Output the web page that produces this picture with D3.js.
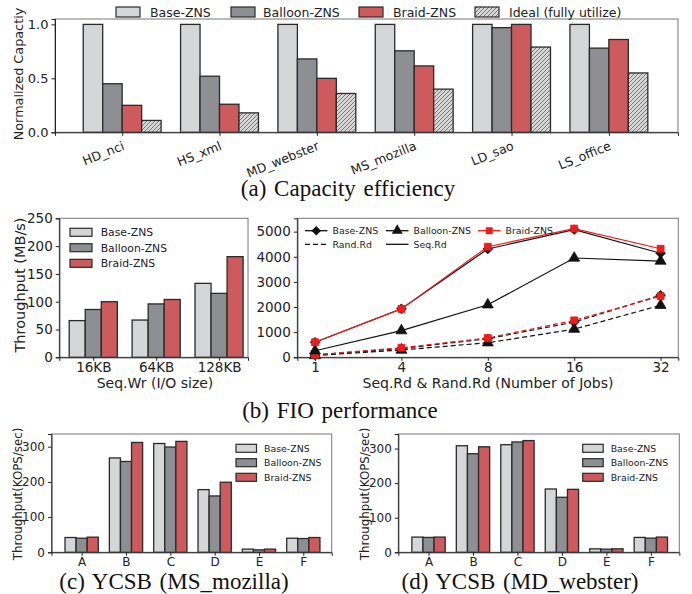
<!DOCTYPE html>
<html>
<head>
<meta charset="utf-8">
<script src="https://cdn.jsdelivr.net/npm/d3@7"></script>
<style>
body { margin: 0; background: #fff; }
svg text { font-family: "DejaVu Sans", sans-serif; fill: #222; }
svg text.cap { font-family: "Liberation Serif", serif; fill: #111; }
</style>
</head>
<body>
<div id="fig"></div>
<script>
// (a) capacity efficiency
const traces = ["HD_nci", "HS_xml", "MD_webster", "MS_mozilla", "LD_sao", "LS_office"];
const capBase = [1, 1, 1, 1, 1, 1];
const capBalloon = [0.45, 0.52, 0.68, 0.755, 0.97, 0.78];
const capBraid = [0.25, 0.26, 0.50, 0.615, 1.0, 0.86];
const capIdeal = [0.11, 0.18, 0.36, 0.40, 0.79, 0.55];
const capTicks = [0, 0.5, 1.0];

// (b) sequential write
const ioSizes = ["16KB", "64KB", "128KB"];
const wrBase = [66, 67, 133];
const wrBalloon = [86, 96, 115];
const wrBraid = [100, 104, 181];
const wrTicks = [0, 50, 100, 150, 200, 250];

// (b) sequential / random read
const jobs = ["1", "4", "8", "16", "32"];
const seqBase = [597, 1933, 4310, 5080, 4140];
const seqBalloon = [260, 1060, 2090, 3950, 3830];
const seqBraid = [600, 1925, 4400, 5120, 4320];
const randBase = [90, 350, 740, 1400, 2470];
const randBalloon = [70, 290, 580, 1120, 2070];
const randBraid = [100, 380, 770, 1470, 2430];
const rdTicks = [0, 1000, 2000, 3000, 4000, 5000];

// (c) / (d) YCSB
const workloads = ["A", "B", "C", "D", "E", "F"];
const mozBase = [42, 268, 309, 178, 9, 40];
const mozBalloon = [40, 258, 299, 160, 7, 39];
const mozBraid = [43, 312, 315, 199, 9, 42];
const webBase = [44, 308, 311, 183, 10, 43];
const webBalloon = [43, 285, 319, 159, 9, 41];
const webBraid = [44, 305, 323, 182, 10, 44];
const ycsbTicks = [0, 100, 200, 300];

const names = ["Base-ZNS", "Balloon-ZNS", "Braid-ZNS"];
const fills = ["#d5d6d8", "#8e8f93", "#cd5a5c"];

const svg = d3.select("#fig")
    .append("svg")
    .attr("width", 692)
    .attr("height", 594);

// hatch for "Ideal"
const pat = svg.append("defs").append("pattern")
    .attr("id", "hatch")
    .attr("patternUnits", "userSpaceOnUse")
    .attr("width", 4)
    .attr("height", 4);
pat.append("rect").attr("width", 4).attr("height", 4).attr("fill", "#d8d8d8");
pat.append("path")
    .attr("d", "M-1,1 l2,-2 M0,4 l4,-4 M3,5 l2,-2")
    .attr("stroke", "#5a5a5a")
    .attr("stroke-width", 0.8);

// frame + axes for one panel
function axes(g, x, y, o) {
    const [x0, x1] = x.range();
    const [y0, y1] = y.range();
    g.append("rect")
        .attr("x", x0).attr("y", y1)
        .attr("width", x1 - x0).attr("height", y0 - y1)
        .attr("fill", "none")
        .attr("stroke", "#777")
        .attr("stroke-width", 1);

    const ya = g.append("g")
        .attr("transform", `translate(${x0},0)`)
        .call(d3.axisLeft(y).tickValues(o.yTicks).tickFormat(o.yFmt).tickSizeOuter(0).tickSize(3.5).tickPadding(3));
    ya.select(".domain").attr("stroke", "#222");
    ya.selectAll(".tick line").attr("stroke", "#222");
    ya.selectAll("text").attr("font-size", o.yFs).attr("font-family", "DejaVu Sans").attr("fill", "#222");

    const xa = g.append("g")
        .attr("transform", `translate(0,${y0})`)
        .call(d3.axisBottom(x).tickValues(d3.range(o.cats.length)).tickFormat(i => o.cats[i]).tickSizeOuter(0).tickSize(3.5).tickPadding(2));
    xa.select(".domain").attr("stroke", "#222");
    xa.selectAll(".tick line").attr("stroke", "#222");
    xa.selectAll("text").attr("font-size", o.xFs).attr("font-family", "DejaVu Sans").attr("fill", "#222");
    return xa;
}

function bars(g, x, y, series, bw) {
    const n = series.length;
    series.forEach((s, k) => {
        const off = (k - (n - 1) / 2) * bw;
        g.append("g").selectAll("rect")
            .data(s.vals)
            .join("rect")
            .attr("x", (d, i) => x(i + off - bw / 2))
            .attr("width", x(bw) - x(0))
            .attr("y", d => y(d))
            .attr("height", d => y(0) - y(d))
            .attr("fill", s.fill)
            .attr("stroke", "#2a2a2a")
            .attr("stroke-width", 1.3);
    });
}

function boxLegend(g, items, x, ys, w, h, fs, tx) {
    items.forEach((it, k) => {
        g.append("rect")
            .attr("x", x[k]).attr("y", ys[k] - h / 2)
            .attr("width", w).attr("height", h)
            .attr("fill", it.fill)
            .attr("stroke", "#2a2a2a")
            .attr("stroke-width", 1.2);
        g.append("text")
            .attr("x", tx[k]).attr("y", ys[k])
            .attr("dy", "0.36em")
            .attr("font-size", fs)
            .text(it.name);
    });
}

function yLabel(g, text, cx, cy, fs) {
    g.append("text")
        .attr("transform", `translate(${cx},${cy}) rotate(-90)`)
        .attr("text-anchor", "middle")
        .attr("dy", "0.36em")
        .attr("font-size", fs)
        .text(text);
}

function caption(text, cx, y) {
    svg.append("text")
        .attr("class", "cap")
        .attr("x", cx).attr("y", y)
        .attr("text-anchor", "middle")
        .attr("font-size", 23)
        .style("word-spacing", "2px")
        .text(text);
}

// ---------- (a)
const ga = svg.append("g");
const xa = d3.scaleLinear().domain([-0.69, 5.71]).range([55, 678]);
const ya = d3.scaleLinear().domain([0, 1.05]).range([132.3, 19]);
bars(ga, xa, ya, [
    { vals: capBase, fill: fills[0] },
    { vals: capBalloon, fill: fills[1] },
    { vals: capBraid, fill: fills[2] },
    { vals: capIdeal, fill: "url(#hatch)" }
], 0.2);
const axA = axes(ga, xa, ya, { yTicks: capTicks, yFmt: d3.format(".1f"), yFs: 13, cats: traces, xFs: 12.5 });
axA.selectAll("text")
    .attr("text-anchor", "end")
    .attr("transform", "translate(-3,3) rotate(-22)")
    .attr("dy", "0.75em");
yLabel(ga, "Normalized Capactiy", 18, 74, 12.8);
boxLegend(ga,
    [{ name: "Base-ZNS", fill: fills[0] }, { name: "Balloon-ZNS", fill: fills[1] },
     { name: "Braid-ZNS", fill: fills[2] }, { name: "Ideal (fully utilize)", fill: "url(#hatch)" }],
    [116, 231, 359, 475], [12, 12, 12, 12], 24, 10, 12.5, [150, 263, 393, 509]);
caption("(a) Capacity efficiency", 348, 196);

// ---------- (b) left
const gb = svg.append("g");
const xb = d3.scaleLinear().domain([-0.54, 2.46]).range([59.3, 248]);
const yb = d3.scaleLinear().domain([0, 250]).range([357.3, 218.3]);
bars(gb, xb, yb, [
    { vals: wrBase, fill: fills[0] },
    { vals: wrBalloon, fill: fills[1] },
    { vals: wrBraid, fill: fills[2] }
], 0.255);
axes(gb, xb, yb, { yTicks: wrTicks, yFmt: d3.format("d"), yFs: 13.5, cats: ioSizes, xFs: 13.5 });
yLabel(gb, "Throughput (MB/s)", 20, 285, 14.5);
gb.append("text").attr("x", 155).attr("y", 388).attr("text-anchor", "middle").attr("font-size", 14).text("Seq.Wr (I/O size)");
boxLegend(gb, names.map((n, k) => ({ name: n, fill: fills[k] })),
    [70, 70, 70], [232.3, 247.7, 263.3], 22, 8, 10.8, [100.7, 100.7, 100.7]);

// ---------- (b) right
const gr = svg.append("g");
const xr = d3.scaleLinear().domain([-0.205, 4.205]).range([297.3, 678.3]);
const yr = d3.scaleLinear().domain([0, 5530]).range([357.3, 218.3]);
axes(gr, xr, yr, { yTicks: rdTicks, yFmt: d3.format("d"), yFs: 13.5, cats: jobs, xFs: 13.5 });
gr.append("text").attr("x", 488).attr("y", 388).attr("text-anchor", "middle").attr("font-size", 14).text("Seq.Rd & Rand.Rd (Number of Jobs)");

const diamond = d3.symbol().type(d3.symbolSquare).size(46)();
const tri = d3.symbol().type(d3.symbolTriangle).size(52)();
const sq = d3.symbol().type(d3.symbolSquare).size(48)();
const lineSeries = [
    { vals: randBalloon, color: "#111", dash: "5,3", mark: tri, rot: 0 },
    { vals: randBase, color: "#111", dash: "5,3", mark: diamond, rot: 45 },
    { vals: randBraid, color: "#ee1c1c", dash: "5,3", mark: sq, rot: 0 },
    { vals: seqBalloon, color: "#111", dash: null, mark: tri, rot: 0 },
    { vals: seqBase, color: "#111", dash: null, mark: diamond, rot: 45 },
    { vals: seqBraid, color: "#ee1c1c", dash: null, mark: sq, rot: 0 }
];
const line = d3.line().x((d, i) => xr(i)).y(d => yr(d));
lineSeries.forEach(s => {
    gr.append("path")
        .attr("d", line(s.vals))
        .attr("fill", "none")
        .attr("stroke", s.color)
        .attr("stroke-width", 1.2)
        .attr("stroke-dasharray", s.dash);
    gr.append("g").selectAll("path")
        .data(s.vals)
        .join("path")
        .attr("d", s.mark)
        .attr("transform", (d, i) => `translate(${xr(i)},${yr(d)}) rotate(${s.rot})`)
        .attr("fill", s.color)
        .attr("stroke", s.color)
        .attr("stroke-width", 0.8);
});

// line legend
const lleg = [
    { x: 305, y: 230.7, name: "Base-ZNS", color: "#111", dash: null, mark: diamond, rot: 45 },
    { x: 386, y: 230.7, name: "Balloon-ZNS", color: "#111", dash: null, mark: tri, rot: 0 },
    { x: 478, y: 230.7, name: "Braid-ZNS", color: "#ee1c1c", dash: null, mark: sq, rot: 0 },
    { x: 305, y: 244.3, name: "Rand.Rd", color: "#111", dash: "5,3", mark: null },
    { x: 386, y: 244.3, name: "Seq.Rd", color: "#111", dash: null, mark: null }
];
lleg.forEach(l => {
    gr.append("line")
        .attr("x1", l.x).attr("x2", l.x + 22.5)
        .attr("y1", l.y).attr("y2", l.y)
        .attr("stroke", l.color)
        .attr("stroke-width", 1.3)
        .attr("stroke-dasharray", l.dash);
    if (l.mark) {
        gr.append("path")
            .attr("d", l.mark)
            .attr("transform", `translate(${l.x + 11.25},${l.y}) rotate(${l.rot})`)
            .attr("fill", l.color);
    }
    gr.append("text")
        .attr("x", l.x + 27.5).attr("y", l.y)
        .attr("dy", "0.36em")
        .attr("font-size", 9.4)
        .text(l.name);
});
caption("(b) FIO performance", 340, 418);

// ---------- (c) and (d)
function ycsb(x0, x1, top, vals, legX) {
    const g = svg.append("g");
    const x = d3.scaleLinear().domain([-0.68, 5.64]).range([x0, x1]);
    const y = d3.scaleLinear().domain([0, top]).range([552.3, 434]);
    bars(g, x, y, vals.map((v, k) => ({ vals: v, fill: fills[k] })), 0.25);
    axes(g, x, y, { yTicks: ycsbTicks, yFmt: d3.format("d"), yFs: 12, cats: workloads, xFs: 12 });
    yLabel(g, "Throughput(KOPS/sec)", x0 - 34, 494, 11.8);
    boxLegend(g, names.map((n, k) => ({ name: n, fill: fills[k] })),
        [legX, legX, legX], [448.3, 462.7, 477.3], 20.5, 8, 9.4, [legX + 28, legX + 28, legX + 28]);
    return g;
}
ycsb(51.5, 331.7, 336, [mozBase, mozBalloon, mozBraid], 236);
ycsb(398.3, 679.3, 342, [webBase, webBalloon, webBraid], 582.7);
caption("(c) YCSB (MS_mozilla)", 174, 589);
caption("(d) YCSB (MD_webster)", 520, 589);
</script>
</body>
</html>
